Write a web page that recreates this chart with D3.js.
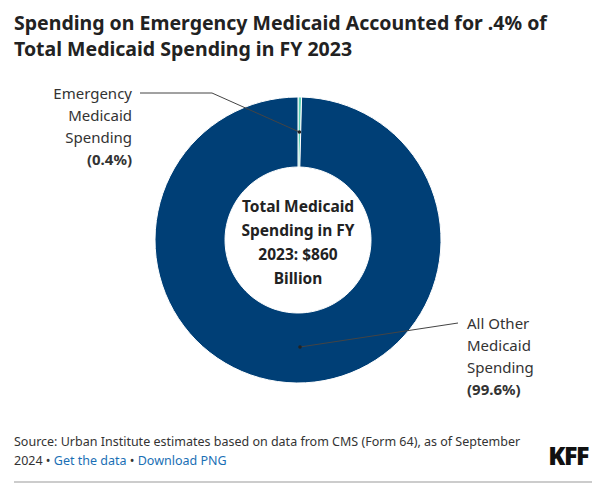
<!DOCTYPE html>
<html><head><meta charset="utf-8">
<script src="https://cdn.jsdelivr.net/npm/d3@7"></script>
<style>body{margin:0;background:#fff;}</style>
</head><body><svg id="c" width="605" height="498"></svg>
<script>
const categories = ["Emergency Medicaid Spending", "All Other Medicaid Spending"];
const values = [0.4, 99.6];
const colors = ["#5fd3b4", "#003f76"];
const svg = d3.select("#c");
const f = '"Noto Sans",sans-serif';
svg.append("text").attr("x",14).attr("y",30).attr("font-family",f).attr("font-weight",700).attr("font-size",19.5).attr("fill","#222").text("Spending on Emergency Medicaid Accounted for .4% of");
svg.append("text").attr("x",14).attr("y",56).attr("font-family",f).attr("font-weight",700).attr("font-size",19.5).attr("fill","#222").text("Total Medicaid Spending in FY 2023");
const cx=298, cy=240, R=143, r=73;
const pie = d3.pie().sort(null)(values);
const arc = d3.arc().innerRadius(r).outerRadius(R);
const g = svg.append("g").attr("transform",`translate(${cx},${cy})`);
g.selectAll("path").data(pie).join("path").attr("d",arc).attr("fill",(d,i)=>colors[i]).attr("stroke","#fff").attr("stroke-width",1);
const ct=["Total Medicaid","Spending in FY","2023: $860","Billion"];
ct.forEach((t,i)=>g.append("text").attr("y",-28+i*24).attr("text-anchor","middle").attr("font-family",f).attr("font-weight",700).attr("font-size",15.5).attr("fill","#222").text(t));
const mid = d3.arc().innerRadius((r+R)/2).outerRadius((r+R)/2);
const p0 = mid.centroid(pie[0]);
g.append("path").attr("d",d3.line()([[140-cx,93-cy],[212-cx,93-cy],[p0[0],p0[1]]])).attr("fill","none").attr("stroke","#444").attr("stroke-width",1);
g.append("circle").attr("cx",p0[0]).attr("cy",p0[1]).attr("r",1.8).attr("fill","#222");
const q1=[300-cx,347-cy];
g.append("path").attr("d",d3.line()([[458-cx,323-cy],q1])).attr("fill","none").attr("stroke","#444").attr("stroke-width",1);
g.append("circle").attr("cx",q1[0]).attr("cy",q1[1]).attr("r",1.8).attr("fill","#222");
const l0=["Emergency","Medicaid","Spending","(0.4%)"];
l0.forEach((t,i)=>svg.append("text").attr("x",132).attr("y",99+i*22).attr("text-anchor","end").attr("font-family",f).attr("font-size",15).attr("font-weight",i==3?700:400).attr("fill","#333").text(t));
const l1=["All Other","Medicaid","Spending","(99.6%)"];
l1.forEach((t,i)=>svg.append("text").attr("x",467).attr("y",329+i*22).attr("font-family",f).attr("font-size",15).attr("font-weight",i==3?700:400).attr("fill","#333").text(t));
const s=svg.append("text").attr("x",14).attr("y",446).attr("font-family",f).attr("font-size",12.5).attr("fill","#333");
s.text("Source: Urban Institute estimates based on data from CMS (Form 64), as of September");
const s2=svg.append("text").attr("x",14).attr("y",465).attr("font-family",f).attr("font-size",12.5).attr("fill","#333");
s2.append("tspan").text("2024 • ");
s2.append("tspan").attr("fill","#1a6fb5").text("Get the data");
s2.append("tspan").text(" • ");
s2.append("tspan").attr("fill","#1a6fb5").text("Download PNG");
svg.append("text").attr("x",588).attr("y",465).attr("text-anchor","end").attr("font-family",f).attr("font-weight",900).attr("font-size",25).attr("letter-spacing",-1.5).attr("fill","#111").text("KFF");
svg.append("line").attr("x1",14).attr("x2",592).attr("y1",482).attr("y2",482).attr("stroke","#999");
</script></body></html>
